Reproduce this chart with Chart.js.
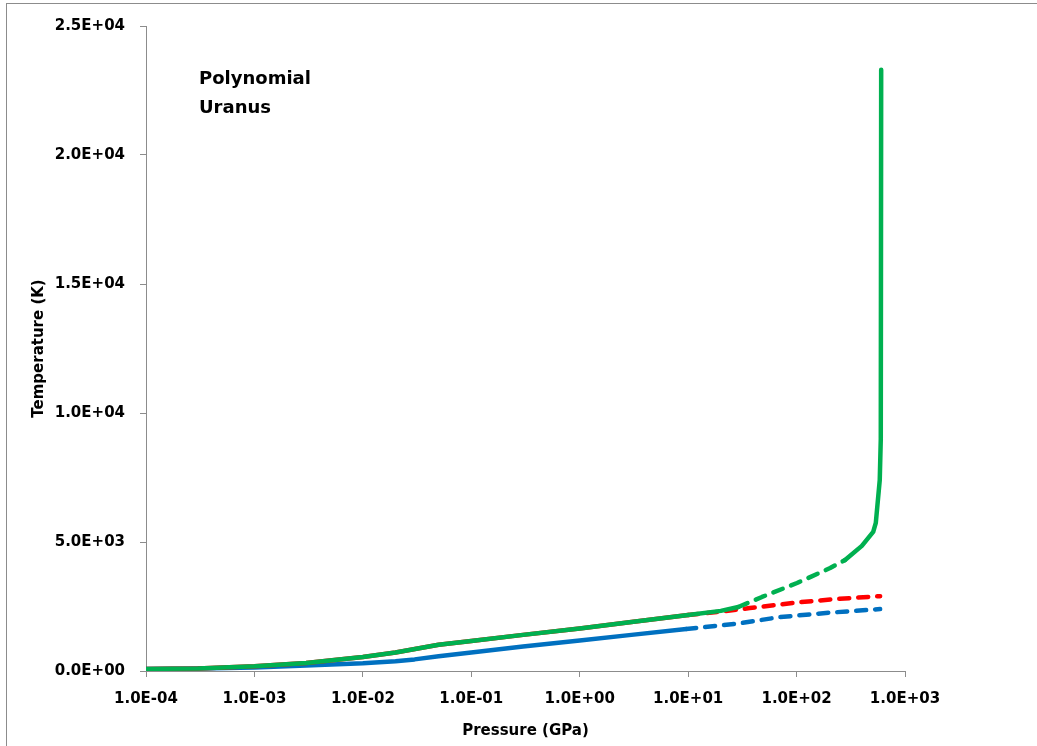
<!DOCTYPE html>
<html>
<head>
<meta charset="utf-8">
<script src="https://cdn.jsdelivr.net/npm/chart.js@4"></script>
<style>
  body { margin: 0; background: #fff; }
  #frame { position: absolute; left: 6px; top: 3px; width: 1100px; height: 800px; border: 1px solid #8c8c8c; }
  #wrap { position: absolute; left: 0; top: 0; width: 1037px; height: 746px; }
</style>
</head>
<body>
<div id="frame"></div>
<div id="wrap"><canvas id="tempChart" width="1037" height="746"></canvas></div>
<script>
// pressure (GPa) / temperature (K)
const greenP = [1e-4, 3e-4, 1e-3, 3e-3, 1e-2, 2e-2, 5e-2, 1e-1, 3e-1, 1, 3, 10, 20, 29, 48, 101, 204, 280, 400, 509, 538, 585, 598, 603];
const greenT = [80, 100, 180, 310, 540, 720, 1020, 1160, 1400, 1650, 1900, 2170, 2330, 2480, 2870, 3410, 3990, 4300, 4850, 5390, 5740, 7400, 9000, 23300];
const redP = [1e-4, 3e-4, 1e-3, 3e-3, 1e-2, 2e-2, 5e-2, 1e-1, 3e-1, 1, 3, 10, 20, 37, 108, 250, 590];
const redT = [80, 100, 180, 310, 540, 720, 1020, 1160, 1400, 1650, 1900, 2170, 2300, 2440, 2670, 2800, 2900];
const blueP = [1e-4, 3e-4, 1e-3, 3e-3, 1e-2, 2e-2, 3e-2, 5e-2, 1e-1, 3e-1, 1, 3, 9.6, 30, 70, 200, 590];
const blueT = [80, 95, 140, 210, 300, 380, 450, 570, 720, 950, 1180, 1400, 1630, 1850, 2090, 2260, 2400];
const xTicks = [1e-4, 1e-3, 1e-2, 1e-1, 1e0, 1e1, 1e2, 1e3];
const yTicks = [0, 5000, 10000, 15000, 20000, 25000];
const noteLines = ['Polynomial', 'Uranus'];

function sci(v) {
    if (v === 0) return '0.0E+00';
    const e = Math.floor(Math.log10(Math.abs(v)) + 1e-9);
    const m = v / Math.pow(10, e);
    return m.toFixed(1) + 'E' + (e < 0 ? '-' : '+') + String(Math.abs(e)).padStart(2, '0');
}

function pts(xs, ys) {
    return xs.map((x, i) => ({ x: x, y: ys[i] }));
}

const dash = [10, 9];
const fontFam = "'DejaVu Sans', sans-serif";

const notePlugin = {
    id: 'note',
    afterDraw(chart) {
        const c = chart.ctx;
        c.save();
        c.font = 'bold 18px ' + fontFam;
        c.fillStyle = '#000';
        c.textBaseline = 'alphabetic';
        c.fillText(noteLines[0], 199, 84);
        c.fillText(noteLines[1], 199, 113);
        c.restore();
    }
};

const ctx = document.getElementById('tempChart').getContext('2d');
const tempChart = new Chart(ctx, {
    type: 'scatter',
    data: {
        datasets: [{
            data: pts(greenP, greenT),
            borderColor: '#00B050',
            segment: {
                borderDash: c => (c.p0DataIndex >= 13 && c.p0DataIndex <= 16) ? dash : undefined
            }
        }, {
            data: pts(redP, redT),
            borderColor: '#FF0000',
            segment: {
                borderDash: c => c.p0DataIndex >= 11 ? dash : undefined
            }
        }, {
            data: pts(blueP, blueT),
            borderColor: '#0070C0',
            segment: {
                borderDash: c => c.p0DataIndex >= 12 ? dash : undefined
            }
        }]
    },
    options: {
        responsive: false,
        animation: false,
        showLine: true,
        datasets: {
            scatter: {
                showLine: true,
                pointRadius: 0,
                borderWidth: 4.5,
                borderCapStyle: 'round',
                borderJoinStyle: 'round',
                tension: 0
            }
        },
        layout: {
            padding: { left: 0, top: 26, right: 132, bottom: 0 }
        },
        plugins: {
            legend: { display: false },
            tooltip: { enabled: false }
        },
        scales: {
            x: {
                type: 'logarithmic',
                min: 1e-4,
                max: 1e3,
                afterBuildTicks: s => { s.ticks = xTicks.map(v => ({ value: v })); },
                afterFit: s => { s.height = 75; },
                border: { color: '#8c8c8c', width: 1 },
                grid: { drawOnChartArea: false, color: '#8c8c8c', tickLength: 6 },
                ticks: {
                    color: '#000',
                    padding: 13,
                    maxRotation: 0,
                    autoSkip: false,
                    font: { family: fontFam, size: 15, weight: 'bold' },
                    callback: v => sci(v)
                },
                title: {
                    display: true,
                    text: 'Pressure (GPa)',
                    color: '#000',
                    padding: { top: 0, bottom: 6 },
                    font: { family: fontFam, size: 15, weight: 'bold' }
                }
            },
            y: {
                min: 0,
                max: 25000,
                afterBuildTicks: s => { s.ticks = yTicks.map(v => ({ value: v })); },
                afterFit: s => { s.width = 146; },
                border: { color: '#8c8c8c', width: 1 },
                grid: { drawOnChartArea: false, color: '#8c8c8c', tickLength: 6 },
                ticks: {
                    color: '#000',
                    padding: 15,
                    font: { family: fontFam, size: 15, weight: 'bold' },
                    callback: v => sci(v)
                },
                title: {
                    display: true,
                    text: 'Temperature (K)',
                    color: '#000',
                    padding: { top: 30, bottom: 0 },
                    font: { family: fontFam, size: 15, weight: 'bold' }
                }
            }
        }
    },
    plugins: [notePlugin]
});
</script>
</body>
</html>
